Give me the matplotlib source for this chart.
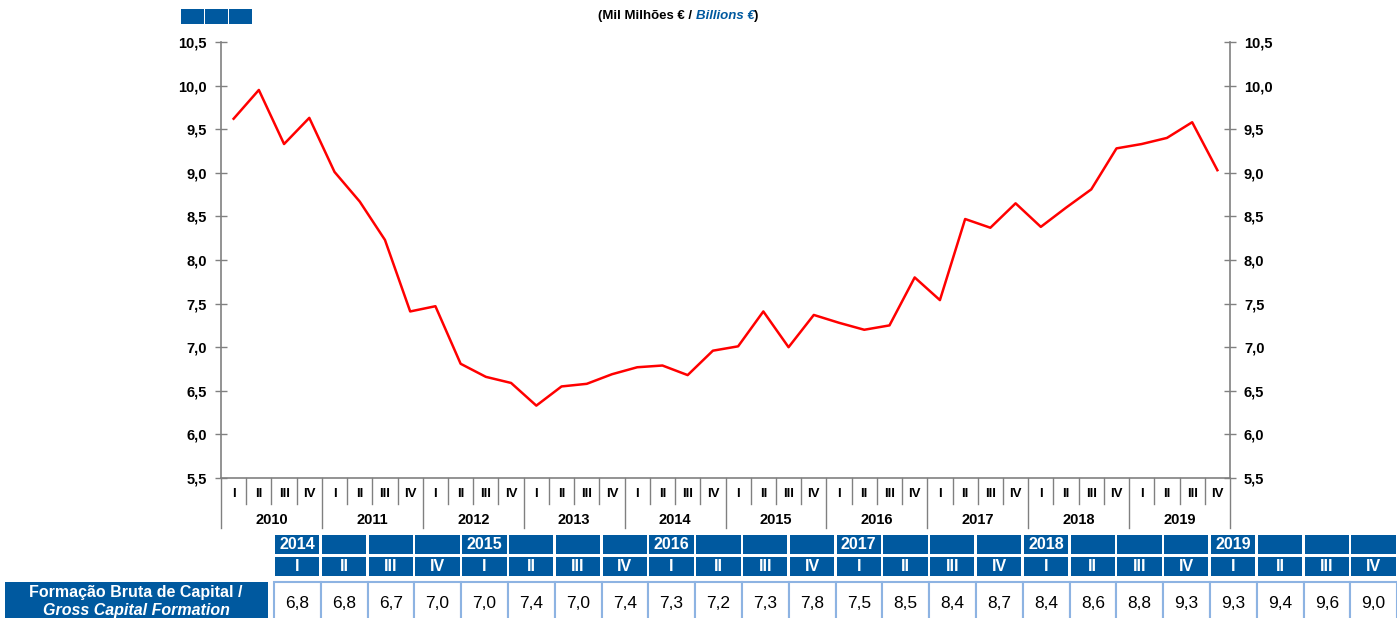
import matplotlib
matplotlib.use("Agg")
import matplotlib.pyplot as plt
from matplotlib.patches import Rectangle

plt.rcParams["font.family"] = ["Liberation Sans", "DejaVu Sans"]

BLUE = "#00599F"
RED = "#FF0000"
GREY = "#808080"
CELL_EDGE = "#8DB3E2"

# ---- data ----
years = ["2010", "2011", "2012", "2013", "2014", "2015", "2016", "2017", "2018", "2019"]
quarters = ["I", "II", "III", "IV"]
gcf = [9.62, 9.95, 9.33, 9.63,
       9.01, 8.67, 8.23, 7.41,
       7.47, 6.81, 6.66, 6.59,
       6.33, 6.55, 6.58, 6.69,
       6.77, 6.79, 6.68, 6.96,
       7.01, 7.41, 7.00, 7.37,
       7.28, 7.20, 7.25, 7.80,
       7.54, 8.47, 8.37, 8.65,
       8.38, 8.60, 8.81, 9.28,
       9.33, 9.40, 9.58, 9.03]
yticks = [5.5, 6.0, 6.5, 7.0, 7.5, 8.0, 8.5, 9.0, 9.5, 10.0, 10.5]

tab_years = ["2014", "2015", "2016", "2017", "2018", "2019"]
tab_values = ["6,8", "6,8", "6,7", "7,0", "7,0", "7,4", "7,0", "7,4",
              "7,3", "7,2", "7,3", "7,8", "7,5", "8,5", "8,4", "8,7",
              "8,4", "8,6", "8,8", "9,3", "9,3", "9,4", "9,6", "9,0"]

W, H = 1397, 618
fig = plt.figure(figsize=(W / 100, H / 100), dpi=100)
fig.patch.set_facecolor("white")

ax = fig.add_axes([221 / W, 1 - 478 / H, (1230 - 221) / W, (478 - 42) / H])
xs = [i + 0.5 for i in range(len(gcf))]
ax.plot(xs, gcf, color=RED, lw=1.8, zorder=5)

ax.set_xlim(0, len(gcf))
ax.set_ylim(5.5, 10.5)
ax.set_yticks(yticks)
ax.set_yticklabels([f"{v:.1f}".replace(".", ",") for v in yticks])
ax.set_xticks([])
ax.yaxis.set_ticks_position("both")
ax.tick_params(axis="y", direction="inout", length=8, width=1, color=GREY,
               labelsize=10.5, labelright=True, pad=6)
for t in ax.yaxis.get_major_ticks():
    t.label1.set_fontweight("bold")
    t.label2.set_fontweight("bold")
for s in ["left", "right", "bottom"]:
    ax.spines[s].set_color(GREY)
    ax.spines[s].set_linewidth(1.2)
ax.spines["top"].set_visible(False)

# ---- category axis: quarters and years ----
tr = ax.get_xaxis_transform()
ah = 478 - 42
for b in range(len(gcf) + 1):
    low = -50 / ah if b % 4 == 0 else -26 / ah
    ax.plot([b, b], [0, low], color=GREY, lw=1.0, transform=tr, clip_on=False)
for i in range(len(gcf)):
    ax.text(i + 0.5, -16 / ah, quarters[i % 4], transform=tr, ha="center", va="center",
            fontsize=9.5, fontweight="bold", color="black")
for k, y in enumerate(years):
    ax.text(4 * k + 2, -42 / ah, y, transform=tr, ha="center", va="center",
            fontsize=10.5, fontweight="bold", color="black")

# ---- overlay in pixel coordinates for header & table ----
ov = fig.add_axes([0, 0, 1, 1], facecolor="none")
ov.set_xlim(0, W)
ov.set_ylim(H, 0)
ov.axis("off")

for x0 in (181, 205, 229):
    ov.add_patch(Rectangle((x0, 9), 23, 15, facecolor=BLUE, edgecolor="none"))

t1 = ov.text(598, 16, "(Mil Milhões € / ", ha="left", va="center", fontsize=9.5,
             fontweight="bold", color="black")
t2 = ov.annotate("Billions €", xy=(1, 0.5), xycoords=t1, ha="left", va="center",
                 fontsize=9.5, fontweight="bold", style="italic", color=BLUE)
ov.annotate(")", xy=(1, 0.5), xycoords=t2, ha="left", va="center", fontsize=9.5,
            fontweight="bold", color="black")

# table
x_start, pitch, cw = 275, 46.8, 44.3
for j, val in enumerate(tab_values):
    x0 = x_start + j * pitch
    ov.add_patch(Rectangle((x0, 535), cw, 19, facecolor=BLUE, edgecolor="none", clip_on=False))
    if j % 4 == 0:
        ov.text(x0 + cw / 2, 544.5, tab_years[j // 4], ha="center", va="center",
                fontsize=11.5, fontweight="bold", color="white")
    ov.add_patch(Rectangle((x0, 557), cw, 19, facecolor=BLUE, edgecolor="none", clip_on=False))
    ov.text(x0 + cw / 2, 566.5, quarters[j % 4], ha="center", va="center",
            fontsize=11.5, fontweight="bold", color="white")
    ov.add_patch(Rectangle((x0 - 1, 582), pitch, 40, facecolor="white",
                           edgecolor=CELL_EDGE, lw=1.5, clip_on=False))
    ov.text(x0 + cw / 2, 603, val, ha="center", va="center", fontsize=12.5, color="black")

ov.add_patch(Rectangle((5, 582), 263, 40, facecolor=BLUE, edgecolor="none"))
ov.text(136, 593, "Formação Bruta de Capital /", ha="center", va="center",
        fontsize=11.5, fontweight="bold", color="white")
ov.text(136, 611, "Gross Capital Formation", ha="center", va="center",
        fontsize=11.5, fontweight="bold", style="italic", color="white")

fig.savefig("out.png", dpi=100, facecolor="white")
